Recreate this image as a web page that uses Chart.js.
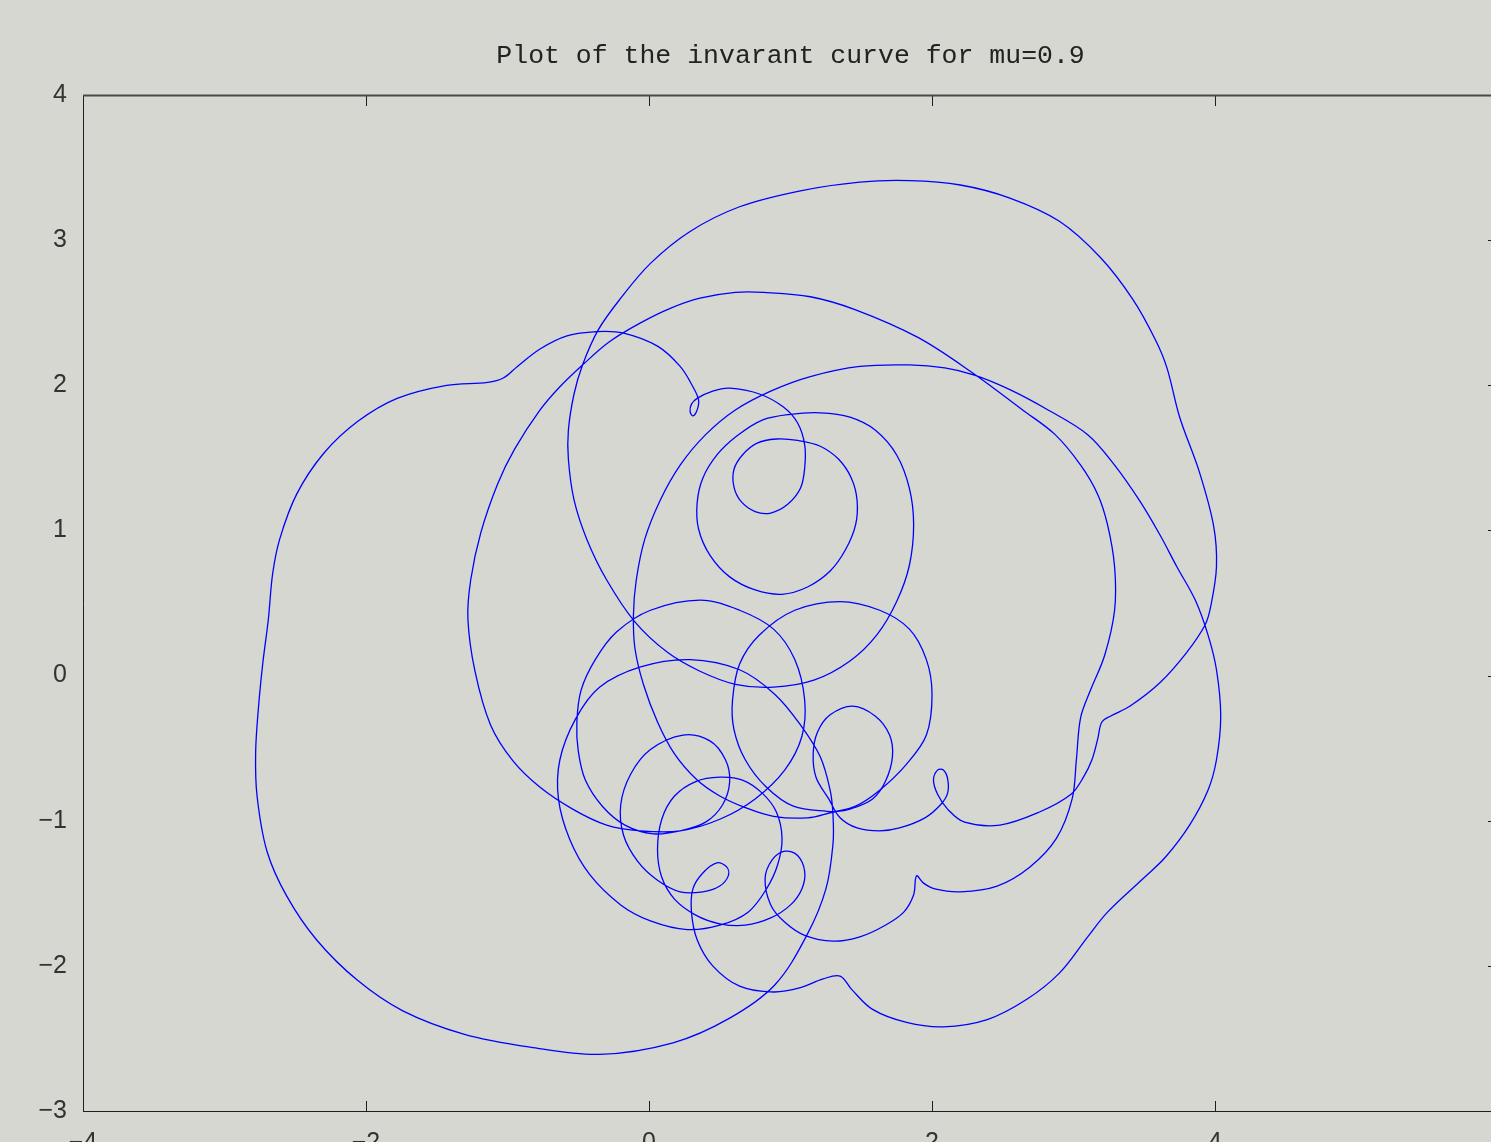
<!DOCTYPE html>
<html>
<head>
<meta charset="utf-8">
<script src="https://cdn.jsdelivr.net/npm/chart.js@4.4.0/dist/chart.umd.min.js"></script>
<style>
  html, body { margin: 0; padding: 0; background: #d5d7d0; }
  canvas { display: block; }
</style>
</head>
<body>
<canvas id="myChart" width="1491" height="1142"></canvas>
<script>
var chartTitle = 'Plot of the invarant curve for mu=0.9';
var xTicks = [-4, -2, 0, 2, 4];
var yTicks = [-3, -2, -1, 0, 1, 2, 3, 4];

// the curve, in drawing order
var arcFromHub = [[1.30,-0.94],[1.12,-0.98],[0.88,-0.97],[0.68,-0.91],[0.50,-0.83],[0.34,-0.72],[0.18,-0.54],[0.06,-0.32],[-0.04,-0.06],[-0.10,0.19],[-0.11,0.42],[-0.09,0.66],[-0.03,0.94],[0.08,1.21],[0.22,1.45],[0.40,1.66],[0.61,1.83],[0.86,1.96],[1.14,2.06],[1.49,2.13],[1.84,2.14],[2.09,2.12],[2.30,2.07],[2.55,1.97],[2.82,1.83],[3.10,1.66],[3.29,1.45],[3.47,1.20],[3.61,0.97],[3.73,0.75],[3.86,0.52],[3.95,0.28],[4.01,0.04],[4.04,-0.28],[4.01,-0.58],[3.95,-0.79],[3.82,-1.03],[3.65,-1.25],[3.49,-1.40],[3.24,-1.63],[3.10,-1.80],[2.90,-2.05],[2.67,-2.23],[2.39,-2.37],[2.08,-2.42],[1.82,-2.39],[1.58,-2.30],[1.43,-2.16],[1.35,-2.07]];

var lowerLoops = [[1.23,-2.09],[1.07,-2.15],[0.88,-2.18],[0.64,-2.14],[0.45,-2.00],[0.34,-1.82],[0.30,-1.63],[0.31,-1.47],[0.38,-1.36],[0.48,-1.29],[0.55,-1.32],[0.56,-1.38],[0.50,-1.45],[0.38,-1.49],[0.22,-1.49],[0.06,-1.41],[-0.08,-1.28],[-0.18,-1.10],[-0.20,-0.89],[-0.13,-0.68],[0.01,-0.51],[0.24,-0.41],[0.43,-0.45],[0.54,-0.58],[0.57,-0.73],[0.52,-0.89],[0.40,-1.01],[0.22,-1.07],[0.03,-1.09],[-0.17,-1.03],[-0.33,-0.90],[-0.45,-0.72],[-0.50,-0.52],[-0.51,-0.32],[-0.48,-0.10],[-0.38,0.11],[-0.23,0.30],[0.01,0.45],[0.36,0.52],[0.64,0.45],[0.88,0.32],[1.03,0.11],[1.10,-0.17],[1.08,-0.42],[0.96,-0.65],[0.75,-0.85],[0.50,-0.99],[0.22,-1.07],[-0.06,-1.07],[-0.30,-1.03],[-0.54,-0.92],[-0.77,-0.77]];

var upperArc = [[-0.96,-0.59],[-1.12,-0.34],[-1.23,0.03],[-1.28,0.39],[-1.26,0.66],[-1.19,0.98],[-1.07,1.32],[-0.95,1.56],[-0.77,1.83],[-0.63,1.99],[-0.47,2.14],[-0.28,2.30],[-0.06,2.43],[0.15,2.53],[0.36,2.60],[0.61,2.64],[0.81,2.64],[1.14,2.61],[1.46,2.52],[1.90,2.33],[2.28,2.09],[2.64,1.83],[2.87,1.66],[3.05,1.45],[3.17,1.25],[3.24,1.04],[3.29,0.75],[3.29,0.45],[3.22,0.14],[3.12,-0.10],[3.05,-0.29],[3.02,-0.58],[2.99,-0.85],[2.88,-1.12],[2.69,-1.32],[2.46,-1.45],[2.20,-1.49],[2.02,-1.47],[1.94,-1.43],[1.89,-1.38]];

var cuspLoops = [[1.87,-1.51],[1.80,-1.63],[1.67,-1.72],[1.49,-1.80],[1.30,-1.83],[1.10,-1.79],[0.96,-1.70],[0.86,-1.58],[0.82,-1.40],[0.87,-1.27],[0.96,-1.21],[1.05,-1.24],[1.10,-1.35],[1.08,-1.47],[1.00,-1.58],[0.86,-1.67],[0.68,-1.72],[0.50,-1.71],[0.33,-1.65],[0.18,-1.54],[0.09,-1.39],[0.06,-1.20],[0.09,-0.99],[0.18,-0.83],[0.33,-0.73],[0.50,-0.70],[0.66,-0.72],[0.80,-0.81],[0.90,-0.94],[0.94,-1.12],[0.91,-1.30],[0.83,-1.47],[0.70,-1.63],[0.50,-1.72],[0.27,-1.75],[0.01,-1.69],[-0.20,-1.58],[-0.42,-1.37],[-0.56,-1.13],[-0.64,-0.85],[-0.63,-0.58],[-0.52,-0.30],[-0.35,-0.08],[-0.06,0.06],[0.29,0.11],[0.64,0.04],[0.89,-0.13],[1.07,-0.34],[1.21,-0.56],[1.28,-0.79],[1.30,-0.96],[1.30,-1.16],[1.25,-1.47],[1.12,-1.78],[0.89,-2.13],[0.57,-2.36],[0.17,-2.53],[-0.35,-2.61],[-0.84,-2.56]];

var leftLoop = [[-1.31,-2.47],[-1.74,-2.31],[-2.06,-2.10],[-2.35,-1.82],[-2.56,-1.52],[-2.70,-1.21],[-2.77,-0.83],[-2.78,-0.53],[-2.76,-0.22],[-2.73,0.08],[-2.69,0.39],[-2.66,0.70],[-2.61,0.94],[-2.49,1.25],[-2.30,1.53],[-2.06,1.75],[-1.78,1.91],[-1.43,2.00],[-1.14,2.02],[-1.03,2.05],[-0.93,2.13],[-0.77,2.25],[-0.58,2.34],[-0.37,2.37],[-0.18,2.36],[0.06,2.27],[0.22,2.13],[0.31,1.99],[0.35,1.90],[0.34,1.83],[0.31,1.79],[0.29,1.82],[0.30,1.87],[0.34,1.91],[0.45,1.96],[0.57,1.98]];

var centreSpiral = [[0.78,1.94],[0.95,1.85],[1.05,1.74],[1.10,1.59],[1.10,1.43],[1.07,1.29],[0.98,1.18],[0.86,1.12],[0.75,1.13],[0.65,1.20],[0.60,1.30],[0.60,1.42],[0.66,1.52],[0.76,1.60],[0.90,1.63],[1.05,1.62],[1.21,1.58],[1.34,1.49],[1.43,1.36],[1.47,1.21],[1.46,1.04],[1.39,0.87],[1.28,0.72],[1.12,0.61],[0.94,0.56],[0.75,0.59],[0.57,0.68],[0.43,0.83],[0.35,1.01],[0.34,1.19],[0.38,1.36],[0.48,1.52],[0.62,1.65],[0.80,1.76],[1.00,1.80],[1.21,1.81],[1.42,1.78],[1.60,1.69],[1.75,1.52],[1.84,1.29],[1.87,1.04],[1.84,0.76],[1.75,0.51],[1.61,0.28],[1.42,0.10],[1.17,-0.03],[0.88,-0.08],[0.61,-0.06],[0.36,0.03],[0.13,0.16],[-0.10,0.37],[-0.30,0.66]];

var topLoop = [[-0.44,0.94],[-0.53,1.21],[-0.57,1.49],[-0.57,1.69],[-0.53,1.94],[-0.47,2.14],[-0.36,2.38],[-0.20,2.60],[0.01,2.84],[0.29,3.06],[0.64,3.23],[1.07,3.34],[1.49,3.40],[1.84,3.41],[2.20,3.38],[2.55,3.29],[2.90,3.13],[3.19,2.88],[3.42,2.59],[3.58,2.31],[3.66,2.12],[3.75,1.78],[3.89,1.40],[3.99,1.03],[4.01,0.75],[3.97,0.48],[3.93,0.35],[3.80,0.16],[3.61,-0.05],[3.40,-0.21],[3.26,-0.28],[3.20,-0.32],[3.17,-0.44],[3.13,-0.58],[3.07,-0.70],[2.98,-0.82],[2.76,-0.94],[2.48,-1.03],[2.23,-1.01],[2.11,-0.92],[2.04,-0.82],[2.01,-0.72],[2.04,-0.65],[2.08,-0.65],[2.11,-0.71],[2.11,-0.81],[2.06,-0.89],[1.95,-0.98],[1.77,-1.05],[1.63,-1.07],[1.47,-1.05],[1.35,-0.98],[1.27,-0.85],[1.18,-0.70],[1.16,-0.54],[1.19,-0.39],[1.28,-0.27],[1.44,-0.21],[1.60,-0.28],[1.70,-0.41],[1.72,-0.56],[1.67,-0.73],[1.58,-0.85],[1.42,-0.92],[1.30,-0.94]];

var sideLoop = [[1.30,-0.94],[1.02,-0.90],[0.83,-0.77],[0.68,-0.58],[0.60,-0.37],[0.59,-0.17],[0.64,0.08],[0.78,0.28],[1.03,0.45],[1.35,0.51],[1.63,0.45],[1.84,0.32],[1.96,0.11],[2.00,-0.13],[1.96,-0.41],[1.82,-0.61],[1.63,-0.79],[1.46,-0.90],[1.30,-0.94]];

var curvePath = [].concat(arcFromHub, lowerLoops, upperArc, cuspLoops, leftLoop, centreSpiral, topLoop);

function toPoints(list) {
  return list.map(function (p) { return {x: p[0], y: p[1]}; });
}

function tickText(v) {
  return v < 0 ? '\u2212' + Math.abs(v) : String(v);
}

// gnuplot style frame: ticks point inwards, right edge is cut off,
// title centred over the full plot box (which runs to x = 6)
var framePlugin = {
  id: 'frame',
  beforeDatasetsDraw: function (chart) {
    var ctx = chart.ctx, a = chart.chartArea;
    var xs = chart.scales.x, ys = chart.scales.y;
    ctx.save();
    ctx.strokeStyle = '#1e1e1e';
    ctx.lineWidth = 1;
    ctx.beginPath();
    ctx.moveTo(a.left + 0.5, a.bottom + 0.5);
    ctx.lineTo(a.left + 0.5, a.top);
    ctx.moveTo(a.left, a.bottom + 0.5);
    ctx.lineTo(a.right, a.bottom + 0.5);
    xTicks.forEach(function (v) {
      var px = Math.round(xs.getPixelForValue(v)) + 0.5;
      ctx.moveTo(px, a.top);
      ctx.lineTo(px, a.top + 11);
      ctx.moveTo(px, a.bottom);
      ctx.lineTo(px, a.bottom - 10);
    });
    yTicks.forEach(function (v) {
      var py = Math.round(ys.getPixelForValue(v)) + 0.5;
      ctx.moveTo(a.right - 3, py);
      ctx.lineTo(a.right, py);
    });
    ctx.stroke();
    ctx.strokeStyle = '#4a4a4a';
    ctx.lineWidth = 2;
    ctx.beginPath();
    ctx.moveTo(a.left, a.top + 0.5);
    ctx.lineTo(a.right, a.top + 0.5);
    ctx.stroke();

    var cx = (a.left + xs.getPixelForValue(6)) / 2;
    ctx.fillStyle = '#222222';
    ctx.font = '26.5px "Liberation Mono", "DejaVu Sans Mono", monospace';
    ctx.textAlign = 'center';
    ctx.textBaseline = 'middle';
    ctx.fillText(chartTitle, cx, 56);
    ctx.restore();
  }
};

var ctx = document.getElementById('myChart').getContext('2d');
var myChart = new Chart(ctx, {
  type: 'scatter',
  data: {
    datasets: [{
      data: toPoints(curvePath),
      showLine: true,
      borderColor: '#0000ff',
      borderWidth: 1.3,
      pointRadius: 0,
      tension: 0.35
    }, {
      data: toPoints(sideLoop),
      showLine: true,
      borderColor: '#0000ff',
      borderWidth: 1.3,
      pointRadius: 0,
      tension: 0.35
    }]
  },
  options: {
    responsive: false,
    animation: false,
    devicePixelRatio: 1,
    layout: { padding: { top: 95, left: 0, right: 0, bottom: 0 } },
    plugins: {
      legend: { display: false },
      tooltip: { enabled: false },
      title: { display: false }
    },
    scales: {
      x: {
        type: 'linear',
        min: -4,
        max: 5.95,
        grid: { display: false, drawTicks: false },
        border: { display: false },
        afterBuildTicks: function (scale) {
          scale.ticks = xTicks.map(function (v) { return {value: v}; });
        },
        afterFit: function (scale) { scale.height = 31; },
        ticks: {
          padding: 17,
          autoSkip: false,
          maxRotation: 0,
          color: '#333333',
          font: { family: '"Liberation Sans", sans-serif', size: 25 },
          callback: tickText
        }
      },
      y: {
        type: 'linear',
        min: -3,
        max: 4,
        grid: { display: false, drawTicks: false },
        border: { display: false },
        afterBuildTicks: function (scale) {
          scale.ticks = yTicks.map(function (v) { return {value: v}; });
        },
        afterFit: function (scale) { scale.width = 83; },
        ticks: {
          padding: 16,
          autoSkip: false,
          color: '#333333',
          font: { family: '"Liberation Sans", sans-serif', size: 25 },
          callback: tickText
        }
      }
    }
  },
  plugins: [framePlugin]
});
</script>
</body>
</html>
